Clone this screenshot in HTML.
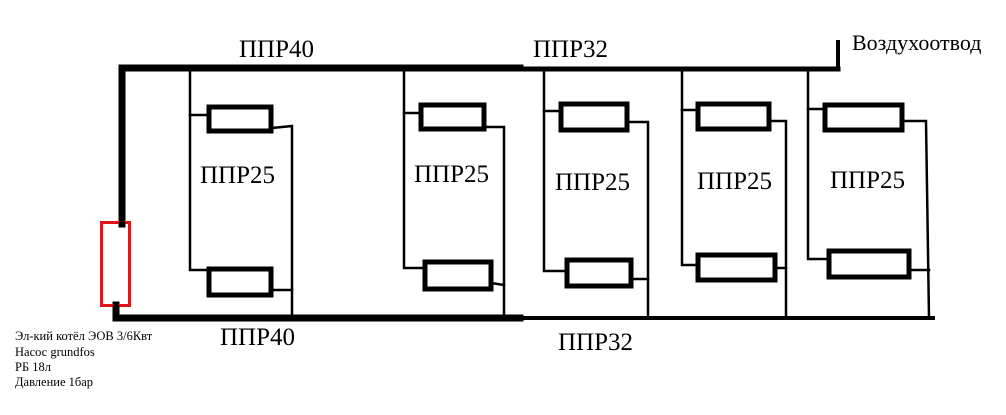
<!DOCTYPE html>
<html><head><meta charset="utf-8"><style>
html,body{margin:0;padding:0;background:#fff;width:1006px;height:415px;overflow:hidden}
svg{display:block}
text{font-family:"Liberation Serif",serif;fill:#000}
</style></head><body>
<svg width="1006" height="415" viewBox="0 0 1006 415" xmlns="http://www.w3.org/2000/svg">
<g stroke="#000" fill="none" stroke-linecap="square">
<line x1="122" y1="68" x2="520" y2="68" stroke-width="7"/>
<line x1="520" y1="69" x2="838" y2="69" stroke-width="5"/>
<line x1="838" y1="42" x2="838" y2="69" stroke-width="4"/>
<line x1="122" y1="68" x2="122" y2="224" stroke-width="7"/>
<line x1="116" y1="305" x2="116" y2="318" stroke-width="7"/>
<line x1="116" y1="318" x2="520" y2="318" stroke-width="7"/>
<line x1="520" y1="318" x2="933" y2="318" stroke-width="4"/>
<g stroke-width="2.5">
<polyline points="190,70 190,270 208,270"/>
<polyline points="190,115 208,115"/>
<polyline points="272,128 292,126 292,318"/>
<polyline points="272,290 292,290"/>
</g>
<rect x="209" y="107" width="62" height="24" stroke-width="5"/>
<rect x="209" y="269" width="62" height="26" stroke-width="5"/>
<g stroke-width="2.5">
<polyline points="404,70 404,268 424,268"/>
<polyline points="404,113 420,113"/>
<polyline points="484,127 504,127 504,318"/>
<polyline points="491,283 504,285"/>
</g>
<rect x="421" y="105" width="63" height="24" stroke-width="5"/>
<rect x="425" y="262" width="66" height="27" stroke-width="5"/>
<g stroke-width="2.5">
<polyline points="544,70 544,271 566,271"/>
<polyline points="544,111 561,111"/>
<polyline points="628,122 648,122 648,318"/>
<polyline points="632,279 648,279"/>
</g>
<rect x="561" y="104" width="66" height="26" stroke-width="5"/>
<rect x="567" y="260" width="64" height="26" stroke-width="5"/>
<g stroke-width="2.5">
<polyline points="682,72 682,265 697,265"/>
<polyline points="682,110 697,110"/>
<polyline points="770,121 786,121 786,318"/>
<polyline points="776,268 786,268"/>
</g>
<rect x="698" y="104" width="71" height="25" stroke-width="5"/>
<rect x="698" y="255" width="77" height="25" stroke-width="5"/>
<g stroke-width="2.5">
<polyline points="808,70 808,259 828,259"/>
<polyline points="808,109 825,109"/>
<polyline points="902,121 926,121 929,318"/>
<polyline points="910,270 929,270"/>
</g>
<rect x="825" y="105" width="77" height="25" stroke-width="5"/>
<rect x="829" y="251" width="80" height="26" stroke-width="5"/>
</g>
<rect x="101.5" y="222.5" width="28" height="83" fill="none" stroke="#e0141c" stroke-width="3"/>
<circle cx="122" cy="224" r="3.5" fill="#000"/>
<circle cx="116" cy="307" r="3.5" fill="#000"/>
<g font-size="25">
<text x="239" y="57">ППР40</text>
<text x="533" y="57">ППР32</text>
<text x="220" y="345">ППР40</text>
<text x="558" y="350">ППР32</text>
<text x="200" y="183">ППР25</text>
<text x="414" y="182">ППР25</text>
<text x="555" y="190">ППР25</text>
<text x="697" y="189">ППР25</text>
<text x="830" y="188">ППР25</text>
</g>
<text x="852" y="50" font-size="22">Воздухоотвод</text>
<g font-size="12.5">
<text x="15" y="340">Эл-кий котёл ЭОВ 3/6Квт</text>
<text x="15" y="356">Насос grundfos</text>
<text x="15" y="371">РБ 18л</text>
<text x="15" y="386">Давление 1бар</text>
</g>
</svg>
</body></html>
